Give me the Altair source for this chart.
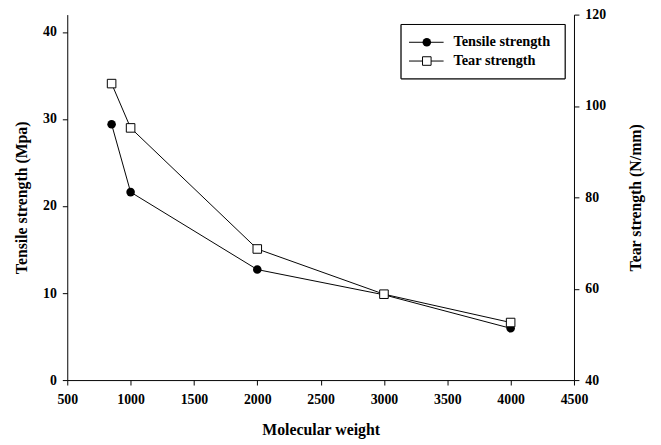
import altair as alt
import pandas as pd

# data
mol_weight = [850, 1000, 2000, 3000, 4000]
tensile_strength = [29.4, 21.6, 12.7, 9.8, 5.95]
tear_strength = [104.9, 95.2, 68.7, 58.8, 52.6]
legend_labels = ["Tensile strength", "Tear strength"]
x_ticks = [500, 1000, 1500, 2000, 2500, 3000, 3500, 4000, 4500]
left_ticks = [0, 10, 20, 30, 40]
right_ticks = [40, 60, 80, 100, 120]

df = pd.DataFrame({"mw": mol_weight, "tensile": tensile_strength, "tear": tear_strength})

FONT = "Liberation Serif"

X = alt.X("mw:Q", title="Molecular weight",
          scale=alt.Scale(domain=[500, 4500], nice=False, zero=False),
          axis=alt.Axis(values=x_ticks, format="d", labelFlush=False,
                        labelPadding=8, titlePadding=15))

Y_left = alt.Y("tensile:Q", title="Tensile strength (Mpa)",
               scale=alt.Scale(domain=[0, 42], nice=False),
               axis=alt.Axis(values=left_ticks, orient="left", labelPadding=6, titlePadding=13))
Y_right = alt.Y("tear:Q", title="Tear strength (N/mm)",
                scale=alt.Scale(domain=[40, 120], nice=False, zero=False),
                axis=alt.Axis(values=right_ticks, orient="right", labelPadding=6,
                              titlePadding=22, titleAngle=270, titleBaseline="top"))

base = alt.Chart(df)
tensile_layer = alt.layer(
    base.mark_line(color="black", strokeWidth=1).encode(x=X, y=Y_left),
    base.mark_point(shape="circle", filled=True, color="black", size=75, opacity=1).encode(x=X, y=Y_left),
)
tear_layer = alt.layer(
    base.mark_line(color="black", strokeWidth=1).encode(x=X, y=Y_right),
    base.mark_point(shape="square", filled=True, fill="white", stroke="black",
                    strokeWidth=1, size=75, opacity=1).encode(x=X, y=Y_right),
)

# manual legend
leg_df = pd.DataFrame({"label": legend_labels})
box = alt.Chart(leg_df).mark_rect(fill="white", stroke="black", strokeWidth=1).encode(
    x=alt.value(338), x2=alt.value(504), y=alt.value(10), y2=alt.value(65))

legend_layers = [box]
entry_y = [28, 47]
for i, lab in enumerate(legend_labels):
    d = alt.Chart(pd.DataFrame({"label": [lab]}))
    legend_layers.append(d.mark_rule(color="black", strokeWidth=1).encode(
        x=alt.value(346), x2=alt.value(381), y=alt.value(entry_y[i])))
    if i == 0:
        legend_layers.append(d.mark_point(shape="circle", filled=True, color="black", size=75, opacity=1).encode(
            x=alt.value(364), y=alt.value(entry_y[i])))
    else:
        legend_layers.append(d.mark_point(shape="square", filled=True, fill="white", stroke="black",
                                          strokeWidth=1, size=75, opacity=1).encode(
            x=alt.value(364), y=alt.value(entry_y[i])))
    legend_layers.append(d.mark_text(align="left", baseline="middle", font=FONT, fontWeight="bold",
                                     fontSize=14.5, color="black").encode(
        x=alt.value(391), y=alt.value(entry_y[i]), text="label:N"))

chart = alt.layer(tensile_layer, tear_layer, *legend_layers).resolve_scale(y="independent").properties(
    width=513, height=370,
    autosize=alt.AutoSizeParams(type="none"),
    padding={"left": 60, "top": 4, "right": 80, "bottom": 60},
).configure_view(stroke=None).configure_axis(
    grid=False,
    domainColor="black", tickColor="black", labelColor="black", titleColor="black",
    domainWidth=1, tickWidth=1, tickSize=5,
    labelFont=FONT, labelFontSize=14, labelFontWeight="bold",
    titleFont=FONT, titleFontSize=16, titleFontWeight="bold",
)

chart.save("out.html", embed_options={"renderer": "svg", "actions": False})
